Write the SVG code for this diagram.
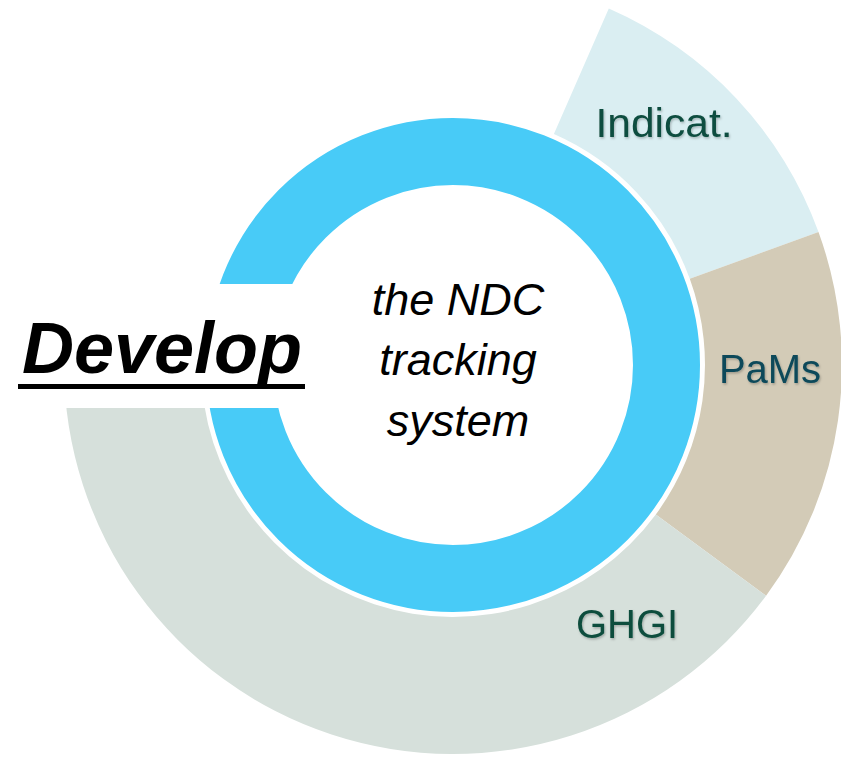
<svg xmlns="http://www.w3.org/2000/svg" width="841" height="758" viewBox="0 0 841 758">
  <defs>
    <filter id="shadow" x="-10%" y="-20%" width="130%" height="150%">
      <feDropShadow dx="1" dy="1.5" stdDeviation="1" flood-color="#000" flood-opacity="0.25"/>
    </filter>
    <style>
      .lbl { font-family: "Liberation Sans", Arial, sans-serif; font-size: 40px; text-anchor: middle; filter: url(#shadow); }
      .center { font-family: "Liberation Sans", Arial, sans-serif; font-size: 45px; font-style: italic; fill: #000; text-anchor: middle; }
    </style>
  </defs>
  <rect width="841" height="758" fill="#fff"/>

  <g id="indicat">
    <path d="M 553.9 134.1 L 608.8 8.5 A 389 389 0 0 1 818.5 232.0 L 689.8 278.8 A 252 252 0 0 0 553.9 134.1 Z" fill="#DAEEF2"/>
    <text class="lbl" x="664" y="137" fill="#0D4D3F" font-size="42" textLength="137" lengthAdjust="spacingAndGlyphs">Indicat.</text>
  </g>
  <g id="pams">
    <path d="M 689.8 278.8 L 818.5 232.0 A 389 389 0 0 1 766.1 595.8 L 655.8 514.5 A 252 252 0 0 0 689.8 278.8 Z" fill="#D3CBB7"/>
    <text class="lbl" x="770" y="383" fill="#0C4A5A">PaMs</text>
  </g>
  <g id="ghgi">
    <path d="M 655.8 514.5 L 766.1 595.8 A 389 389 0 0 1 64 365 L 201 365 A 252 252 0 0 0 655.8 514.5 Z" fill="#D6E0DB"/>
    <text class="lbl" x="627" y="638" fill="#0B4D3D">GHGI</text>
  </g>

  <g id="ring">
    <circle cx="453" cy="365" r="213.5" fill="none" stroke="#48CBF7" stroke-width="67"/>
    <g class="center">
      <text x="458" y="315">the NDC</text>
      <text x="458" y="375">tracking</text>
      <text x="458" y="436">system</text>
    </g>
  </g>

  <g id="develop">
    <rect x="0" y="284" width="312" height="124" fill="#fff"/>
    <text x="22" y="373" font-family="Liberation Sans, Arial, sans-serif" font-size="72" font-weight="bold" font-style="italic" fill="#000" textLength="280" lengthAdjust="spacingAndGlyphs">Develop</text>
    <rect x="18" y="384" width="287" height="5" fill="#000"/>
  </g>

  <g id="connectors"/>
</svg>
